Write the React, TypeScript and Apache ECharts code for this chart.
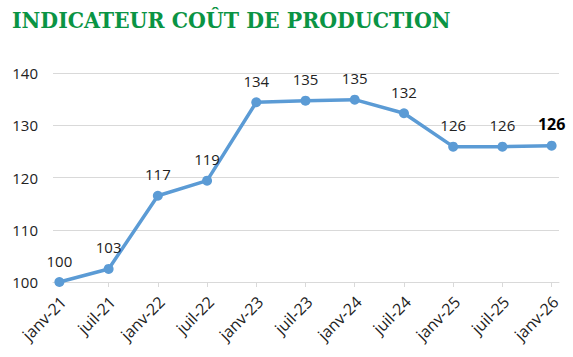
import React, { useEffect, useRef } from "react";
import * as echarts from "echarts";

const categories = ["janv-21", "juil-21", "janv-22", "juil-22", "janv-23", "juil-23", "janv-24", "juil-24", "janv-25", "juil-25", "janv-26"];
const values = [100, 102.5, 116.5, 119.4, 134.4, 134.7, 134.9, 132.3, 125.9, 125.9, 126.1];
const titleText = "INDICATEUR COÛT DE PRODUCTION";

export default function App() {
  const ref = useRef<HTMLDivElement>(null);
  useEffect(() => {
    if (!ref.current) return;
    const chart = echarts.init(ref.current, null, { renderer: "svg" });
    const font = "'Open Sans', 'Noto Sans', sans-serif";
    const idx = categories.map((_, i) => i);
    const labelPos = categories.map((_, i) => i + 0.08);
    chart.setOption({
      animation: false,
      backgroundColor: "#ffffff",
      title: {
        text: titleText,
        left: 7,
        top: 3,
        textStyle: {
          fontFamily: "'DejaVu Serif Condensed', 'DejaVu Serif', serif",
          fontWeight: "bold",
          fontSize: 22.8,
          color: "#0a9444",
        },
      },
      grid: { left: 53, right: 14, top: 73, bottom: 75, containLabel: false },
      xAxis: {
        type: "value",
        min: -0.13,
        max: categories.length - 1 + 0.15,
        splitLine: { show: false },
        axisLine: { show: true, lineStyle: { color: "#d9d9d9", width: 1 } },
        axisTick: { show: true, customValues: idx, length: 5, lineStyle: { color: "#d9d9d9" } },
        axisLabel: {
          customValues: labelPos,
          rotate: 45,
          color: "#222",
          fontSize: 16,
          fontFamily: font,
          margin: 17,
          formatter: (v: number) => categories[Math.round(v)] ?? "",
        },
      },
      yAxis: {
        type: "value",
        min: 100,
        max: 140,
        interval: 10,
        axisLine: { show: false },
        axisTick: { show: false },
        splitLine: { lineStyle: { color: "#d9d9d9", width: 1 } },
        axisLabel: { color: "#222", fontSize: 15, fontFamily: font, margin: 15 },
      },
      series: [
        {
          type: "line",
          data: values.map((v, i) => ({
            value: [i, v],
            label: i === values.length - 1 ? { fontWeight: "bold", fontSize: 16, color: "#000" } : undefined,
          })),
          lineStyle: { color: "#5b9bd5", width: 3.5 },
          itemStyle: { color: "#5b9bd5" },
          symbol: "circle",
          symbolSize: 10,
          label: {
            show: true,
            position: "top",
            distance: 9,
            color: "#222",
            fontSize: 15,
            fontFamily: font,
            formatter: (p: any) => String(Math.round(p.value[1])),
          },
        },
      ],
    });
    return () => chart.dispose();
  }, []);
  return <div ref={ref} style={{ width: 573, height: 357, position: "absolute", left: 0, top: 0 }} />;
}
